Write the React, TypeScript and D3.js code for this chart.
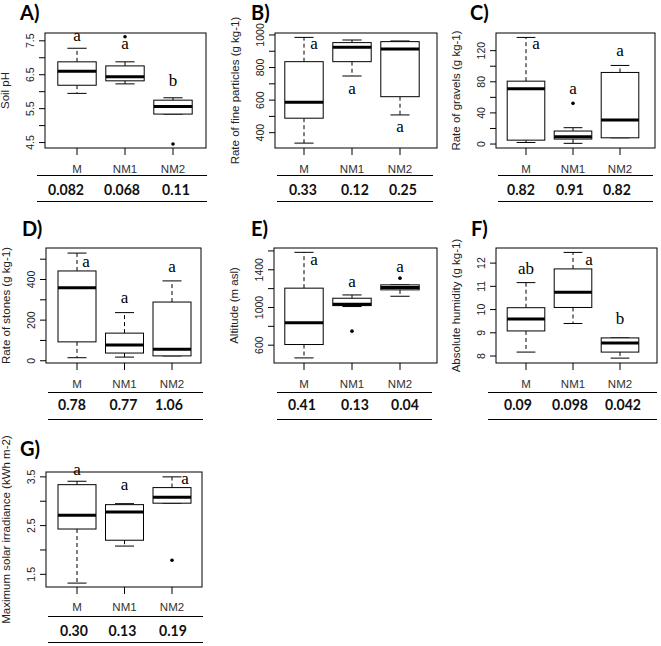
import React from "react";
import * as d3 from "d3";

const categories = ["M", "NM1", "NM2"];

// box statistics per group: [lower whisker, Q1, median, Q3, upper whisker]
const soilPH = [[5.95, 6.19, 6.6, 6.88, 7.28], [6.23, 6.32, 6.44, 6.76, 6.88], [5.34, 5.34, 5.56, 5.75, 5.82]];
const soilPHOutliers = [[], [7.62], [4.46]];
const finePart = [[336, 489, 587, 836, 985], [748, 836, 924, 953, 969], [509, 621, 914, 959, 963]];
const finePartOutliers = [[], [], []];
const gravels = [[2, 5, 71, 80.8, 137], [0.9, 6.4, 9.4, 16.7, 21], [8, 8, 31, 92, 101]];
const gravelsOutliers = [[], [52.3], []];
const stones = [[15, 93, 359, 442, 530], [18, 38, 77, 136, 237], [24, 24, 57, 289, 393]];
const stonesOutliers = [[], [], []];
const altitude = [[465, 607, 837, 1205, 1585], [1010, 1020, 1034, 1098, 1133], [1119, 1187, 1212, 1240, 1240]];
const altitudeOutliers = [[], [749], [1311]];
const humidity = [[8.17, 9.08, 9.59, 10.08, 11.16], [9.4, 10.09, 10.74, 11.75, 12.46], [7.91, 8.17, 8.56, 8.78, 8.78]];
const humidityOutliers = [[], [], []];
const irradiance = [[1.32, 2.43, 2.71, 3.34, 3.41], [2.08, 2.2, 2.78, 2.93, 2.95], [2.96, 2.96, 3.08, 3.28, 3.5]];
const irradianceOutliers = [[], [], [1.79]];

// significance letters and their heights (data units)
const phLetters = ["a", "a", "b"];
const phLetterY = [7.6, 7.37, 6.29];
const fineLetters = ["a", "a", "a"];
const fineLetterY = [939, 663, 429];
const gravelLetters = ["a", "a", "a"];
const gravelLetterY = [127.3, 69.5, 118.7];
const stoneLetters = ["a", "a", "a"];
const stoneLetterY = [480, 304, 456];
const altLetters = ["a", "a", "a"];
const altLetterY = [1489, 1265, 1421];
const humLetters = ["ab", "a", "b"];
const humLetterY = [11.7, 12.07, 9.54];
const irrLetters = ["a", "a", "a"];
const irrLetterY = [3.62, 3.31, 3.44];

// values shown below each panel
const phValues = ["0.082", "0.068", "0.11"];
const fineValues = ["0.33", "0.12", "0.25"];
const gravelValues = ["0.82", "0.91", "0.82"];
const stoneValues = ["0.78", "0.77", "1.06"];
const altValues = ["0.41", "0.13", "0.04"];
const humValues = ["0.09", "0.098", "0.042"];
const irrValues = ["0.30", "0.13", "0.19"];

// axis ranges and ticks
const phDomain = [4.34, 7.73];
const phTicks = [4.5, 5, 5.5, 6, 6.5, 7, 7.5];
const phTickLabels = ["4.5", "", "5.5", "", "6.5", "", "7.5"];
const fineDomain = [306, 1012];
const fineTicks = [400, 500, 600, 700, 800, 900, 1000];
const fineTickLabels = ["400", "", "600", "", "800", "", "1000"];
const gravelDomain = [-5.1, 142.7];
const gravelTicks = [0, 20, 40, 60, 80, 100, 120];
const gravelTickLabels = ["0", "", "40", "", "80", "", "120"];
const stoneDomain = [-11, 555];
const stoneTicks = [0, 100, 200, 300, 400, 500];
const stoneTickLabels = ["0", "", "200", "", "400", ""];
const altDomain = [411, 1631];
const altTicks = [600, 800, 1000, 1200, 1400, 1600];
const altTickLabels = ["600", "", "1000", "", "1400", ""];
const humDomain = [7.7, 12.65];
const humTicks = [8, 9, 10, 11, 12];
const humTickLabels = ["8", "9", "10", "11", "12"];
const irrDomain = [1.24, 3.6];
const irrTicks = [1.5, 2, 2.5, 3, 3.5];
const irrTickLabels = ["1.5", "", "2.5", "", "3.5"];

// layout
const ROWS = [
  { y0: 33, y1: 148, tagY: 20, catY: 173, lineY: 175.5, valY: 195, botY: 201.5 },
  { y0: 248, y1: 363, tagY: 236, catY: 388, lineY: 392.5, valY: 410, botY: 419.5 },
  { y0: 472, y1: 587, tagY: 456, catY: 611, lineY: 616.5, valY: 636, botY: 642.5 },
];

const panels = [
  { tag: "A)", ylab: "Soil pH", stats: soilPH, out: soilPHOutliers, letters: phLetters, letterY: phLetterY, values: phValues, domain: phDomain, ticks: phTicks, tickLabels: phTickLabels,
    row: 0, x0: 45, x1: 206, cat: [77, 173], tagX: 20, lineX: [37, 207], valDx: [-11, -3, 3], letterDx: [0, 0, 0] },
  { tag: "B)", ylab: "Rate of fine particles (g kg-1)", stats: finePart, out: finePartOutliers, letters: fineLetters, letterY: fineLetterY, values: fineValues, domain: fineDomain, ticks: fineTicks, tickLabels: fineTickLabels,
    row: 0, x0: 275, x1: 437, cat: [304, 400], tagX: 251, lineX: [277, 433], valDx: [-1, 3, 3], letterDx: [10, 0, 0] },
  { tag: "C)", ylab: "Rate of gravels (g kg-1)", stats: gravels, out: gravelsOutliers, letters: gravelLetters, letterY: gravelLetterY, values: gravelValues, domain: gravelDomain, ticks: gravelTicks, tickLabels: gravelTickLabels,
    row: 0, x0: 496, x1: 655, cat: [526, 620], tagX: 470, lineX: [498, 653], valDx: [-5, -3, -3], letterDx: [10, 0, 0] },
  { tag: "D)", ylab: "Rate of stones (g kg-1)", stats: stones, out: stonesOutliers, letters: stoneLetters, letterY: stoneLetterY, values: stoneValues, domain: stoneDomain, ticks: stoneTicks, tickLabels: stoneTickLabels,
    row: 1, x0: 46, x1: 201, cat: [77, 172], tagX: 22, lineX: [48, 203], valDx: [-5, -1, -3], letterDx: [9, 0, 0] },
  { tag: "E)", ylab: "Altitude (m asl)", stats: altitude, out: altitudeOutliers, letters: altLetters, letterY: altLetterY, values: altValues, domain: altDomain, ticks: altTicks, tickLabels: altTickLabels,
    row: 1, x0: 274, x1: 437, cat: [304, 400], tagX: 251, lineX: [277, 432], valDx: [-2, 3, 5], letterDx: [10, 0, 0] },
  { tag: "F)", ylab: "Absolute humidity (g kg-1)", stats: humidity, out: humidityOutliers, letters: humLetters, letterY: humLetterY, values: humValues, domain: humDomain, ticks: humTicks, tickLabels: humTickLabels,
    row: 1, x0: 496, x1: 657, cat: [526, 620], tagX: 471, lineX: [488, 657], valDx: [-8, -3, 3], letterDx: [0, 16, 0] },
  { tag: "G)", ylab: "Maximum solar irradiance (kWh m-2)", stats: irradiance, out: irradianceOutliers, letters: irrLetters, letterY: irrLetterY, values: irrValues, domain: irrDomain, ticks: irrTicks, tickLabels: irrTickLabels,
    row: 2, x0: 46, x1: 202, cat: [77, 172], tagX: 20, lineX: [48, 203], valDx: [-3, -2, 1], letterDx: [0, 0, 13] },
];

const SANS = "'Liberation Sans', Arial, sans-serif";
const SERIF = "'Liberation Serif', 'Times New Roman', serif";
const BOLD = "Lato, 'Open Sans', sans-serif";

function Panel({ p }: { p: any }) {
  const R = ROWS[p.row];
  const x = d3.scaleLinear().domain([1, 3]).range(p.cat);
  const y = d3.scaleLinear().domain(p.domain).range([R.y1, R.y0]);
  const hw = x(1.4) - x(1);
  const sw = hw / 2;
  const midY = (R.y0 + R.y1) / 2;
  return (
    <g>
      <text x={p.tagX} y={R.tagY} fontFamily={BOLD} fontWeight={700} fontSize={20} fill="#000">{p.tag}</text>
      {/* y axis label */}
      <text transform={`translate(${p.x0 - 36},${midY}) rotate(-90)`} textAnchor="middle" fontFamily={SANS} fontSize={11.5} fill="#222">{p.ylab}</text>
      {/* y ticks */}
      {p.ticks.map((t: number, i: number) => (
        <g key={"t" + i}>
          <line x1={p.x0 - 6} x2={p.x0} y1={y(t)} y2={y(t)} stroke="#000" />
          {p.tickLabels[i] && (
            <text transform={`translate(${p.x0 - 11},${y(t)}) rotate(-90)`} textAnchor="middle" fontFamily={SANS} fontSize={10.5} fill="#222">{p.tickLabels[i]}</text>
          )}
        </g>
      ))}
      {/* boxes */}
      {p.stats.map((s: number[], i: number) => {
        const cx = x(i + 1);
        const [lo, q1, md, q3, hi] = s;
        return (
          <g key={"b" + i}>
            {hi > q3 && <line x1={cx} x2={cx} y1={y(q3)} y2={y(hi)} stroke="#000" strokeDasharray="4,3" />}
            {lo < q1 && <line x1={cx} x2={cx} y1={y(q1)} y2={y(lo)} stroke="#000" strokeDasharray="4,3" />}
            <line x1={cx - sw} x2={cx + sw} y1={y(hi)} y2={y(hi)} stroke="#000" />
            <line x1={cx - sw} x2={cx + sw} y1={y(lo)} y2={y(lo)} stroke="#000" />
            <rect x={cx - hw} y={y(q3)} width={2 * hw} height={y(q1) - y(q3)} fill="#fff" stroke="#000" />
            <line x1={cx - hw} x2={cx + hw} y1={y(md)} y2={y(md)} stroke="#000" strokeWidth={3} />
            {p.out[i].map((o: number, j: number) => (
              <circle key={j} cx={cx} cy={y(o)} r={1.8} fill="#000" />
            ))}
          </g>
        );
      })}
      {/* letters */}
      {p.letters.map((l: string, i: number) => (
        <text key={"l" + i} x={x(i + 1) + p.letterDx[i]} y={y(p.letterY[i]) + 4} textAnchor="middle" fontFamily={SERIF} fontSize={17} fill="#000">{l}</text>
      ))}
      {/* frame */}
      <rect x={p.x0} y={R.y0} width={p.x1 - p.x0} height={R.y1 - R.y0} fill="none" stroke="#000" />
      {/* x ticks and category labels */}
      {categories.map((c, i) => (
        <g key={"c" + i}>
          <line x1={x(i + 1)} x2={x(i + 1)} y1={R.y1} y2={R.y1 + 7} stroke="#000" />
          <text x={x(i + 1)} y={R.catY} textAnchor="middle" fontFamily={SANS} fontSize={11.5} fill="#333">{c}</text>
        </g>
      ))}
      {/* table */}
      <line x1={p.lineX[0]} x2={p.lineX[1]} y1={R.lineY} y2={R.lineY} stroke="#000" />
      {p.values.map((v: string, i: number) => (
        <text key={"v" + i} transform={`translate(${x(i + 1) + p.valDx[i]},${R.valY}) scale(0.88,1)`} textAnchor="middle" fontFamily={BOLD} fontWeight={700} fontSize={16} fill="#111">{v}</text>
      ))}
      <line x1={p.lineX[0]} x2={p.lineX[1]} y1={R.botY} y2={R.botY} stroke="#000" />
    </g>
  );
}

export default function App() {
  return (
    <svg width={661} height={646} style={{ position: "absolute", left: 0, top: 0, background: "#fff" }}>
      <rect width={661} height={646} fill="#fff" />
      {panels.map((p, i) => (
        <Panel key={i} p={p} />
      ))}
    </svg>
  );
}
